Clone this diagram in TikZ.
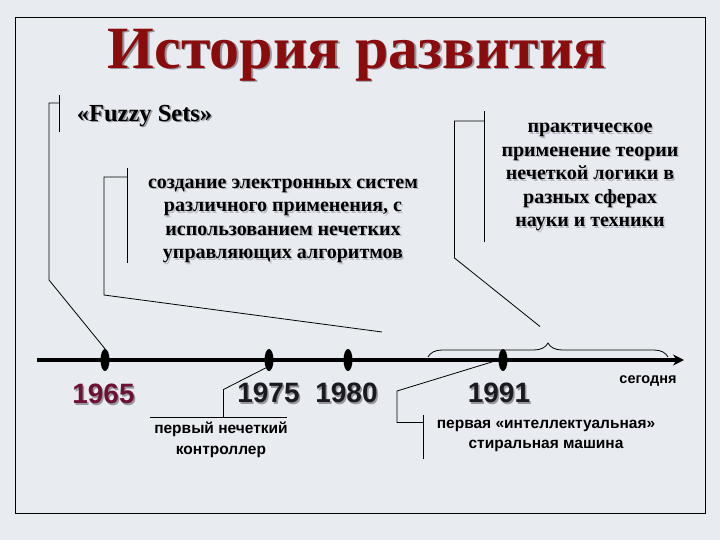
\documentclass[tikz,border=0pt]{standalone}
\usepackage{fontspec}
\setmainfont{Liberation Serif}
\setsansfont{Liberation Sans}
\usetikzlibrary{decorations.pathreplacing,arrows.meta,shapes.geometric}
\definecolor{bgc}{RGB}{232,235,240}
\definecolor{titlered}{RGB}{139,12,12}
\definecolor{yearred}{RGB}{110,16,51}
\definecolor{yeardark}{RGB}{25,25,30}
\definecolor{shadowc}{RGB}{150,150,160}
\definecolor{lightshadow}{RGB}{185,188,198}
\newcommand\shd[2][shadowc]{\leavevmode\rlap{\kern1.5pt\raisebox{-1.5pt}[0pt][0pt]{\textcolor{#1}{#2}}}#2}
\tikzset{
  serifbold/.style={font=\bfseries, align=center, inner sep=0pt},
  bodytext/.style={serifbold, font=\fontsize{20}{23.5}\selectfont\bfseries},
  sanstext/.style={font=\fontsize{15.5}{20.5}\selectfont\sffamily\bfseries, align=center, inner sep=0pt},
  yeartext/.style={font=\fontsize{28}{28}\selectfont\sffamily\bfseries, inner sep=0pt},
  dot/.style={ellipse, fill=black, minimum width=9pt, minimum height=22pt, inner sep=0pt},
  thinline/.style={line width=0.8pt, black},
}
\begin{document}
\begin{tikzpicture}[x=1pt,y=-1pt]
\fill[bgc] (0,0) rectangle (720,540);
\useasboundingbox (0,0) rectangle (720,540);
\draw[line width=1pt] (15,18) rectangle (705,513);

% title
\node[serifbold, text=titlered, font=\fontsize{60}{60}\selectfont\bfseries] (title) at (357,55) {\shd{История развития}};

% Fuzzy sets
\node[serifbold, font=\fontsize{24.5}{24.5}\selectfont\bfseries] (fuzzy) at (144.5,116) {\shd{«Fuzzy Sets»}};

% body texts
\node[bodytext] (create) at (283,221) {\shd[lightshadow]{создание электронных систем}\\\shd[lightshadow]{различного применения, с}\\\shd[lightshadow]{использованием нечетких}\\\shd[lightshadow]{управляющих алгоритмов}};

\node[bodytext] (practice) at (590,177) {\shd[lightshadow]{практическое}\\\shd[lightshadow]{применение теории}\\\shd[lightshadow]{нечеткой логики в}\\\shd[lightshadow]{разных сферах}\\\shd[lightshadow]{науки и техники}};

% timeline
\coordinate (tstart) at (37,360);
\coordinate (tend) at (684,360);
\draw[line width=4pt, -{Stealth[length=11pt,width=11pt]}] (tstart) -- (tend);

\node[dot] (d1965) at (105,360) {};
\node[dot] (d1975) at (269,360) {};
\node[dot] (d1980) at (348,360) {};
\node[dot] (d1991) at (503,360) {};

% years
\node[yeartext, text=yearred] (y1965) at (103.5,394) {\shd{1965}};
\node[yeartext, text=yeardark] (y1975) at (268.5,393) {\shd{1975}};
\node[yeartext, text=yeardark] (y1980) at (346.5,393) {\shd{1980}};
\node[yeartext, text=yeardark] (y1991) at (499,393) {\shd{1991}};

\node[sanstext, font=\fontsize{14.5}{20.5}\selectfont\sffamily\bfseries] (today) at (648,381) {сегодня};
\node[sanstext] (ctrl) at (221,440) {первый нечеткий\\контроллер};
\node[sanstext] (wash) at (546,436) {первая «интеллектуальная»\\стиральная машина};

% brackets/connectors
\coordinate (f1) at (59.5,95);
\coordinate (f2) at (59.5,132);
\coordinate (f3) at (49,103);
\coordinate (f4) at (49,280);
\draw[thinline] (f1) -- (f2);
\draw[thinline] (59.5,103) -- (f3) -- (f4) -- (d1965.north);

\coordinate (c1) at (127.5,168);
\coordinate (c2) at (127.5,263);
\coordinate (c3) at (104,177);
\coordinate (c4) at (104,295);
\coordinate (c5) at (382,332);
\draw[thinline] (c1) -- (c2);
\draw[thinline] (127.5,177) -- (c3) -- (c4) -- (c5);

\coordinate (p1) at (484,111);
\coordinate (p2) at (484,242);
\coordinate (p3) at (454.5,121);
\coordinate (p4) at (454.5,258);
\draw[thinline] (p1) -- (p2);
\draw[thinline] (484,121) -- (p3) -- (p4) -- (540,326.5);

\draw[thinline, decorate, decoration={brace, amplitude=14pt}] (428,357) -- (668,357);

\coordinate (k1) at (150,417.5);
\coordinate (k2) at (287,417.5);
\coordinate (k3) at (223.5,417.5);
\coordinate (k4) at (223.5,389.5);
\draw[thinline] (k1) -- (k2);
\draw[thinline] (k3) -- (k4) -- (d1975.south west);

\coordinate (w1) at (423,415);
\coordinate (w2) at (423,458.5);
\coordinate (w3) at (397,422.5);
\coordinate (w4) at (397,391);
\draw[thinline] (w1) -- (w2);
\draw[thinline] (423,422.5) -- (w3) -- (w4) -- (d1991.west);
\end{tikzpicture}
\end{document}
